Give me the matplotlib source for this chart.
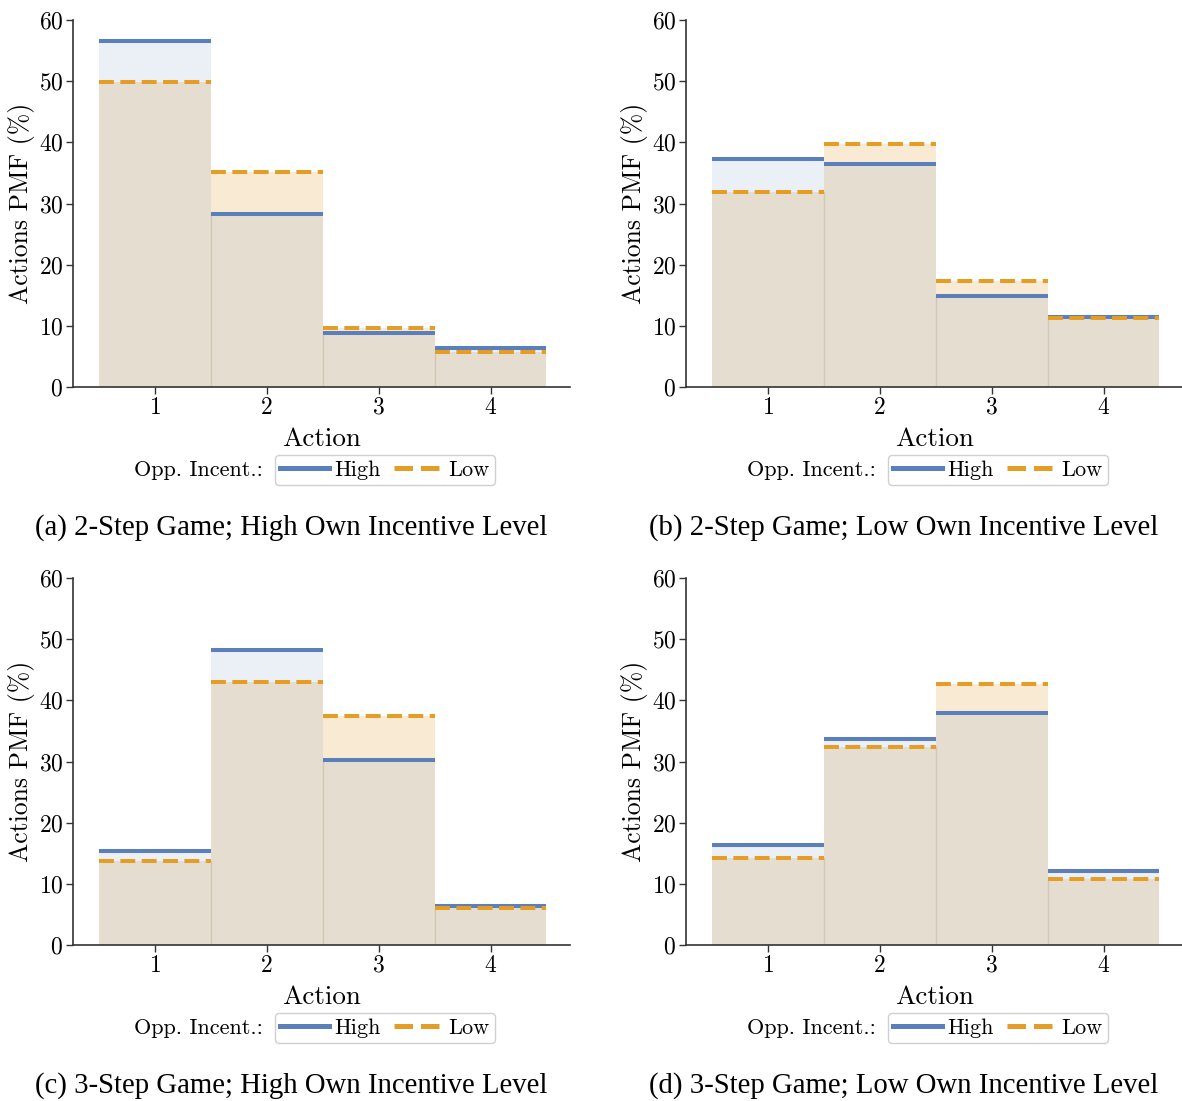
import matplotlib
matplotlib.use("Agg")
import matplotlib.pyplot as plt
from matplotlib.lines import Line2D

plt.rcParams["font.family"] = "cmr10"
plt.rcParams["mathtext.fontset"] = "cm"
plt.rcParams["axes.unicode_minus"] = False
plt.rcParams["axes.formatter.use_mathtext"] = True

# --- data ---
actions = [1, 2, 3, 4]

high_a = [56.6, 28.3, 8.8, 6.4]
low_a = [49.9, 35.1, 9.6, 5.8]

high_b = [37.3, 36.4, 14.8, 11.5]
low_b = [31.9, 39.8, 17.3, 11.2]

high_c = [15.4, 48.2, 30.2, 6.4]
low_c = [13.7, 43.0, 37.5, 6.0]

high_d = [16.4, 33.6, 38.0, 12.1]
low_d = [14.2, 32.4, 42.7, 10.8]

captions = [
    "(a) 2-Step Game; High Own Incentive Level",
    "(b) 2-Step Game; Low Own Incentive Level",
    "(c) 3-Step Game; High Own Incentive Level",
    "(d) 3-Step Game; Low Own Incentive Level",
]
series_labels = ["High", "Low"]
legend_title = "Opp. Incent.:"

BLUE = "#5B7FBA"
ORANGE = "#E59E25"
W, H = 1182, 1101

fig = plt.figure(figsize=(W / 100, H / 100), dpi=100)


def px_axes(x0, y0, x1, y1):
    # pixel box (top-left origin) -> figure fraction
    return fig.add_axes([x0 / W, 1 - y1 / H, (x1 - x0) / W, (y1 - y0) / H])


panels = [
    (high_a, low_a, 73, 20),
    (high_b, low_b, 686, 20),
    (high_c, low_c, 73, 578),
    (high_d, low_d, 686, 578),
]

for i, (high, low, x0, y0) in enumerate(panels):
    ax = px_axes(x0, y0, x0 + 497, y0 + 367)

    # filled histogram bars
    ax.bar(actions, low, width=1.0, color=ORANGE, alpha=0.2, linewidth=0)
    ax.bar(actions, high, width=1.0, color=BLUE, alpha=0.12, linewidth=0)
    # faint separators between bins
    for a in actions[:-1]:
        ax.axvline(a + 0.5, ymax=min(high[a - 1], high[a], low[a - 1], low[a]) / 60,
                   color="#d2c8b6", linewidth=1.0, zorder=1.5)

    # step tops
    for a, v in zip(actions, high):
        ax.hlines(v, a - 0.5, a + 0.5, color=BLUE, linewidth=2.9, zorder=3)
    for a, v in zip(actions, low):
        ax.hlines(v, a - 0.5, a + 0.5, color=ORANGE, linewidth=2.9,
                  linestyles="--", zorder=4)

    ax.set_xlim(0.27, 4.71)
    ax.set_ylim(0, 60)
    ax.set_xticks(actions)
    ax.set_yticks(range(0, 61, 10))
    ax.tick_params(labelsize=17, length=5, width=1, color="#333333", pad=2)
    for side in ("top", "right"):
        ax.spines[side].set_visible(False)
    for side in ("left", "bottom"):
        ax.spines[side].set_color("#333333")
        ax.spines[side].set_linewidth(1.2)
    ax.set_xlabel("Action", fontsize=19.5, labelpad=6)
    ax.set_ylabel("Actions PMF (%)", fontsize=18.5)
    ax.yaxis.set_label_coords(-38 / 497, 0.5)

    handles = [
        Line2D([], [], color=BLUE, linewidth=3.6),
        Line2D([], [], color=ORANGE, linewidth=3.6, linestyle="--"),
    ]
    leg_cx = (x0 - 73 + 385) / W
    leg_cy = 1 - (y0 + 450) / H
    leg = fig.legend(handles, series_labels, loc="center",
                     bbox_to_anchor=(leg_cx, leg_cy), ncol=2, fontsize=16,
                     handlelength=2.2, handletextpad=0.25, columnspacing=0.6,
                     borderpad=0.25, borderaxespad=0, fancybox=True,
                     edgecolor="#d0d0d0", framealpha=1)
    leg.get_frame().set_linewidth(1.0)
    fig.text((x0 - 73 + 263) / W, leg_cy, legend_title, fontsize=16,
             ha="right", va="center")

    cap_cx = (x0 - 73 + 291) / W
    cap_cy = 1 - (y0 + 508) / H
    fig.text(cap_cx, cap_cy, captions[i], fontsize=20.7, ha="center",
             va="center", family="Liberation Serif")

fig.savefig("out.png", dpi=100)
